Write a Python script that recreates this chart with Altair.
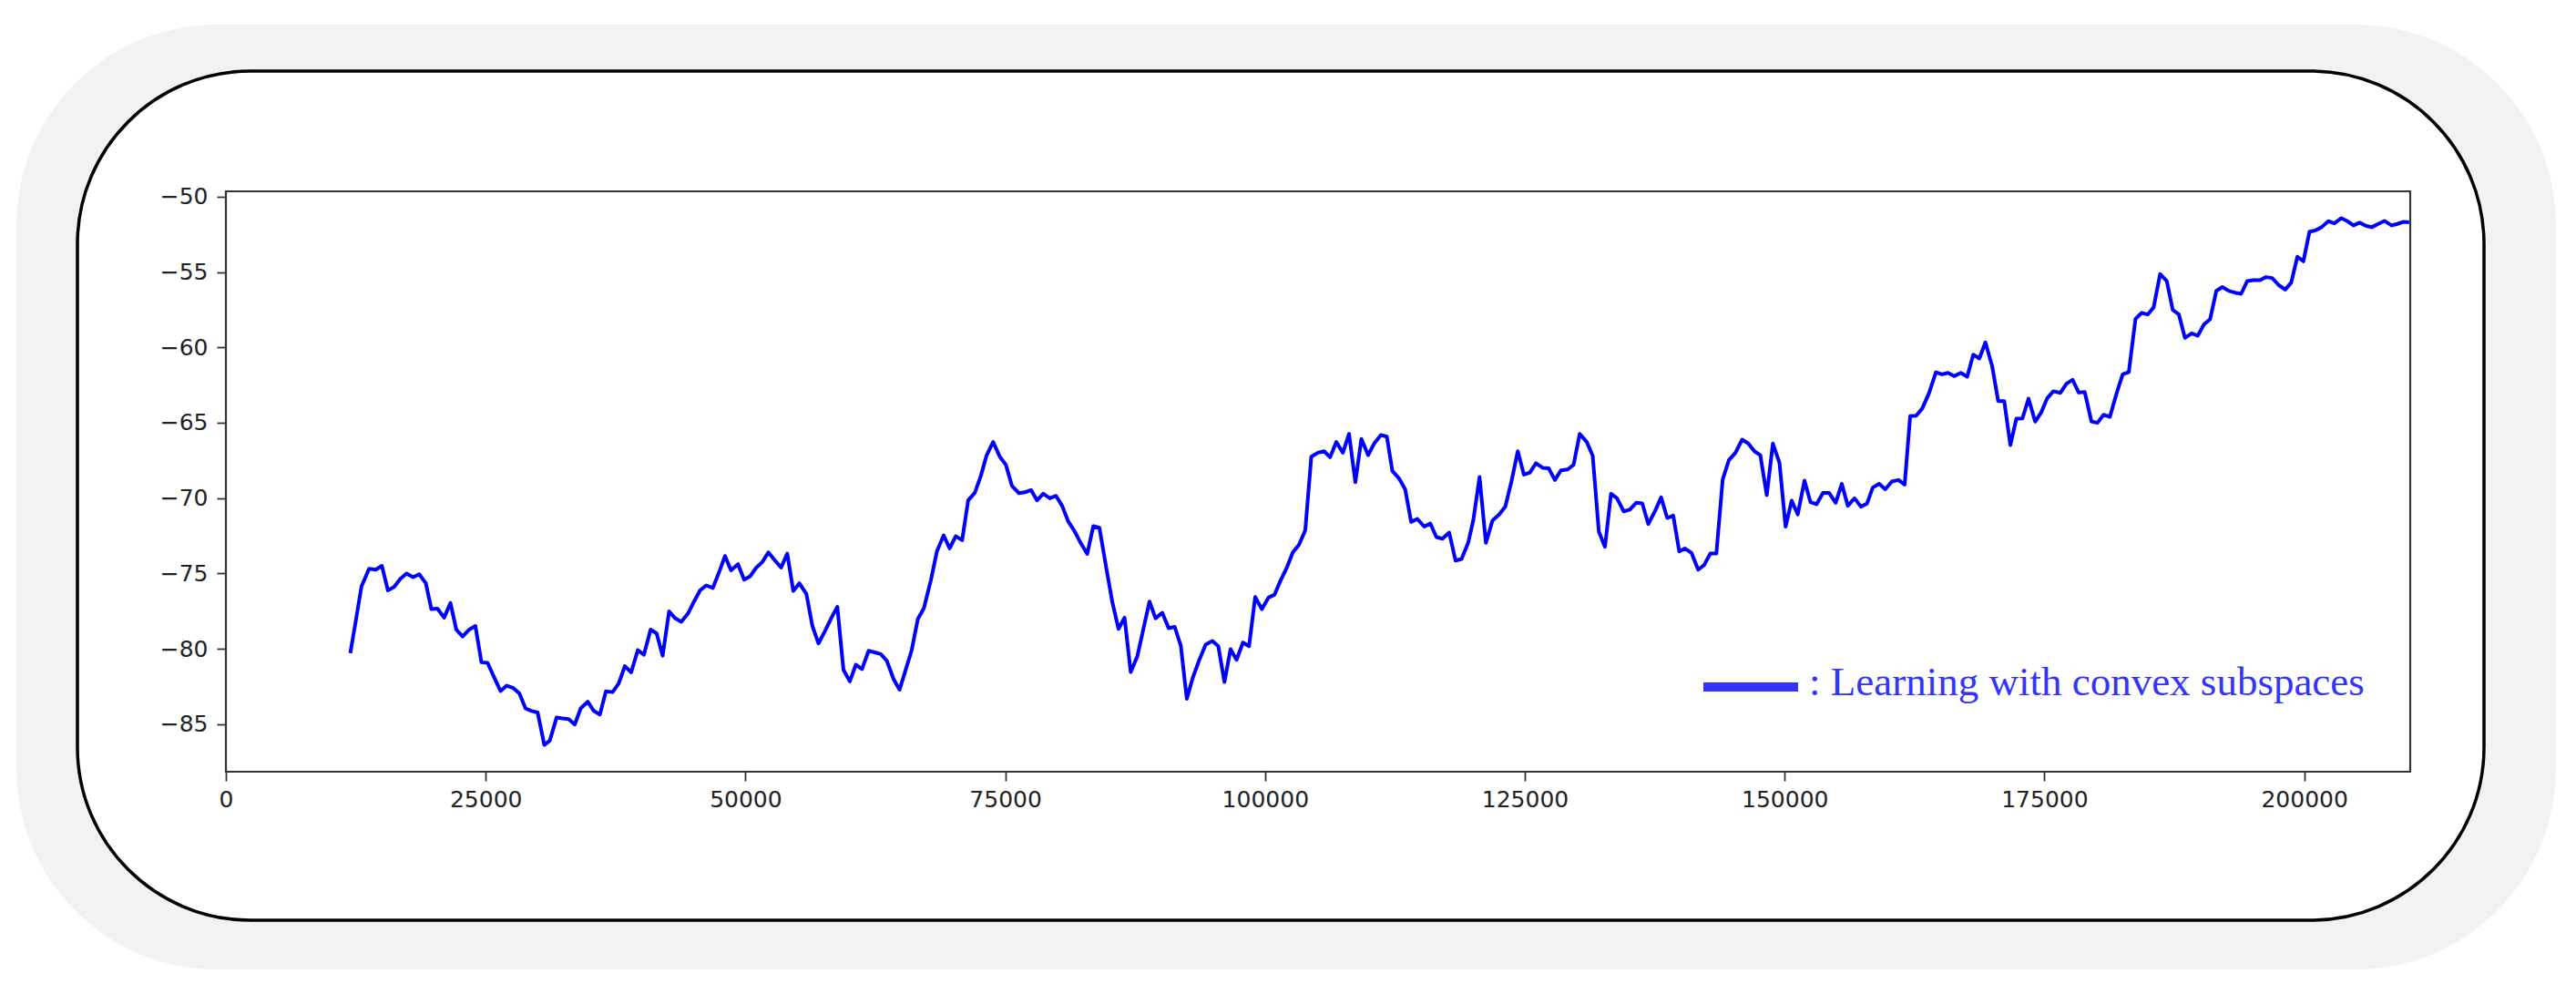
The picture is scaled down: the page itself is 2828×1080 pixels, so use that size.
import altair as alt
import pandas as pd

# ---- data ----
X = [11970, 12470, 13050, 13780, 14420, 15010, 15590, 16180, 16790, 17380, 18020, 18600,
     19240, 19770, 20360, 21000, 21610, 22170, 22780, 23420, 24010, 24590, 25180, 25820,
     26430, 27020, 27660, 28240, 28830, 29410, 30000, 30640, 31170, 31820, 32390, 32980,
     33570, 34140, 34820, 35410, 35990, 36570, 37210, 37800, 38390, 39000, 39640, 40230,
     40870, 41450, 42030, 42650, 43230, 43820, 44460, 45050, 45630, 46220, 46860, 47440,
     48030, 48610, 49280, 49870, 50450, 51040, 51620, 52200, 52790, 53430, 54020, 54600,
     55180, 55860, 56440, 57020, 57610, 58250, 58840, 59430, 60040, 60620, 61210, 61850,
     62430, 63020, 63600, 64250, 64830, 65410, 66000, 66580, 67170, 67840, 68420, 69070,
     69650, 70230, 70850, 71430, 72070, 72660, 73190, 73830, 74470, 75060, 75650, 76310,
     76900, 77490, 78060, 78650, 79290, 79880, 80470, 81040, 81660, 82250, 82890, 83470,
     84060, 84700, 85290, 85900, 86480, 87070, 87710, 88290, 88880, 89460, 90110, 90720,
     91300, 91890, 92470, 93050, 93640, 94280, 94930, 95500, 96090, 96680, 97260, 97870,
     98460, 99050, 99690, 100330, 100920, 101500, 102080, 102670, 103260, 103870, 104450,
     105090, 105680, 106260, 106850, 107490, 108080, 108690, 109270, 109920, 110500,
     111150, 111720, 112250, 112900, 113480, 114060, 114650, 115320, 115900, 116490,
     117070, 117720, 118330, 118910, 119560, 120050, 120640, 121250, 121890, 122540,
     123120, 123710, 124320, 124910, 125490, 126070, 126710, 127300, 127890, 128470,
     129120, 129690, 130280, 130960, 131530, 132120, 132710, 133290, 133870, 134510,
     135100, 135710, 136300, 136880, 137530, 138110, 138700, 139280, 139860, 140390,
     141040, 141680, 142260, 142840, 143430, 144040, 144630, 145270, 145910, 146500,
     147090, 147660, 148280, 148870, 149510, 150090, 150680, 151260, 151910, 152490,
     153070, 153690, 154270, 154910, 155500, 156080, 156730, 157340, 157920, 158480,
     159100, 159680, 160320, 160960, 161550, 162080, 162660, 163240, 163880, 164560,
     165150, 165720, 166310, 166950, 167570, 168150, 168740, 169320, 169970, 170550,
     171130, 171720, 172300, 172890, 173470, 174110, 174700, 175280, 175870, 176540,
     177120, 177710, 178300, 178880, 179520, 180100, 180690, 181300, 181940, 182530,
     183120, 183760, 184350, 184930, 185510, 186130, 186770, 187350, 187940, 188520,
     189170, 189750, 190360, 190950, 191540, 192120, 192760, 193340, 193930, 194520,
     195100, 195750, 196320, 196910, 197530, 198170, 198750, 199340, 199920, 200510,
     201090, 201670, 202320, 202900, 203580, 204160, 204740, 205330, 205920, 206500,
     207080, 207720, 208400, 208980, 209560, 210090]

Y = [-80.29, -78.27, -75.85, -74.69, -74.75, -74.49, -76.12, -75.90, -75.35, -75.00, -75.25, -75.05,
     -75.65, -77.36, -77.33, -77.93, -76.96, -78.72, -79.18, -78.72, -78.48, -80.89, -80.93, -81.90,
     -82.80, -82.44, -82.60, -82.95, -83.95, -84.12, -84.22, -86.37, -86.09, -84.56, -84.62, -84.66,
     -85.02, -83.95, -83.51, -84.12, -84.36, -82.81, -82.87, -82.30, -81.15, -81.56, -80.08, -80.39,
     -78.72, -78.98, -80.45, -77.51, -77.97, -78.21, -77.67, -76.86, -76.12, -75.79, -75.96, -74.95,
     -73.84, -74.79, -74.38, -75.41, -75.19, -74.61, -74.24, -73.60, -74.10, -74.61, -73.68, -76.16,
     -75.65, -76.36, -78.48, -79.64, -78.88, -77.97, -77.21, -81.40, -82.16, -81.05, -81.34, -80.13,
     -80.23, -80.35, -80.79, -82.00, -82.71, -81.40, -80.08, -78.03, -77.30, -75.45, -73.54, -72.47,
     -73.34, -72.53, -72.79, -70.15, -69.65, -68.50, -67.19, -66.28, -67.25, -67.79, -69.20, -69.67,
     -69.61, -69.47, -70.15, -69.71, -70.01, -69.85, -70.51, -71.52, -72.19, -72.97, -73.70, -71.86,
     -71.97, -74.55, -76.86, -78.68, -77.93, -81.54, -80.49, -78.68, -76.86, -77.97, -77.61, -78.63,
     -78.54, -79.78, -83.31, -81.90, -80.79, -79.72, -79.48, -79.82, -82.20, -80.02, -80.73, -79.58,
     -79.82, -76.56, -77.36, -76.60, -76.40, -75.45, -74.64, -73.60, -73.10, -72.13, -67.25,
     -66.99, -66.89, -67.29, -66.28, -66.99, -65.74, -68.94, -66.08, -67.15, -66.38,
     -65.82, -65.92, -68.20, -68.70, -69.41, -71.58, -71.38, -71.89, -71.68, -72.59,
     -72.69, -72.29, -74.14, -74.04, -72.93, -71.42, -68.60, -72.97, -71.48, -71.08,
     -70.56, -68.90, -66.89, -68.44, -68.30, -67.69, -67.99, -68.03, -68.80, -68.16,
     -68.10, -67.79, -65.74, -66.28, -67.19, -72.22, -73.23, -69.71, -70.01, -70.88,
     -70.77, -70.31, -70.35, -71.72, -70.86, -69.95, -71.32, -71.16, -73.54, -73.34,
     -73.64, -74.75, -74.44, -73.68, -73.68, -68.76, -67.49, -66.99, -66.12, -66.38,
     -66.89, -67.15, -69.81, -66.38, -67.69, -71.89, -70.17, -71.08, -68.84, -70.27,
     -70.41, -69.65, -69.65, -70.31, -69.06, -70.51, -70.01, -70.57, -70.37, -69.30,
     -69.05, -69.41, -68.90, -68.80, -69.10, -64.57, -64.53, -64.06, -63.06, -61.65,
     -61.79, -61.69, -61.91, -61.69, -61.95, -60.48, -60.74, -59.67, -61.25, -63.56,
     -63.56, -66.48, -64.73, -64.71, -63.40, -64.93, -64.30, -63.36, -62.91, -63.02,
     -62.41, -62.15, -63.00, -62.96, -64.91, -65.01, -64.47, -64.61, -63.06, -61.79,
     -61.64, -58.12, -57.71, -57.82, -57.35, -55.14, -55.60, -57.52, -57.82, -59.37,
     -59.07, -59.23, -58.48, -58.12, -56.25, -56.00, -56.26, -56.37, -56.45, -55.60,
     -55.54, -55.54, -55.34, -55.40, -55.86, -56.17, -55.70, -53.99, -54.29, -52.32,
     -52.24, -52.03, -51.63, -51.77, -51.43, -51.63, -51.91, -51.73, -51.93, -52.03,
     -51.83, -51.61, -51.91, -51.81, -51.67, -51.71]

X_TICKS = [0, 25000, 50000, 75000, 100000, 125000, 150000, 175000, 200000]
Y_TICKS = [-85, -80, -75, -70, -65, -60, -55, -50]
X_DOMAIN = [0, 210200]
Y_DOMAIN = [-88.15, -49.65]
LEGEND_LABEL = ": Learning with convex subspaces"

n = min(len(X), len(Y))
df = pd.DataFrame({"step": X[:n], "reward": Y[:n]})

W, H = 2398, 637
one = alt.Data(values=[{}])

gray = alt.Chart(one).mark_rect(fill="#f2f2f2", cornerRadius=220).encode(
    x=alt.value(-230), x2=alt.value(2558), y=alt.value(-183), y2=alt.value(854))

frame = alt.Chart(one).mark_rect(fill="white", stroke="black", strokeWidth=3.5,
                                 cornerRadius=190).encode(
    x=alt.value(-163), x2=alt.value(2479), y=alt.value(-132), y2=alt.value(800))

border = alt.Chart(one).mark_rect(fill="white", fillOpacity=0, stroke="#333333",
                                  strokeWidth=2.2).encode(
    x=alt.value(0), x2=alt.value(W), y=alt.value(0), y2=alt.value(H))

axis_common = dict(title=None, format="d", zindex=1, domain=False, grid=False,
                   tickSize=10, tickWidth=1.8, tickColor="#333333",
                   labelFont="DejaVu Sans", labelFontSize=25, labelColor="#222222",
                   labelFlush=False, labelOverlap=False)

line = alt.Chart(df).mark_line(color="#0000ff", strokeWidth=4, strokeJoin="round").encode(
    x=alt.X("step:Q", scale=alt.Scale(domain=X_DOMAIN, nice=False, zero=False),
            axis=alt.Axis(values=X_TICKS, labelPadding=8, **axis_common)),
    y=alt.Y("reward:Q", scale=alt.Scale(domain=Y_DOMAIN, nice=False, zero=False),
            axis=alt.Axis(values=Y_TICKS, labelPadding=10, **axis_common)),
)

legend_rule = alt.Chart(one).mark_rule(color="#3333ff", strokeWidth=10).encode(
    x=alt.value(1622), x2=alt.value(1726), y=alt.value(544))

legend_text = alt.Chart(one).mark_text(
    font="Liberation Serif", fontSize=45, color="#3333ff", align="left",
    baseline="alphabetic").encode(
    x=alt.value(1738), y=alt.value(553), text=alt.value(LEGEND_LABEL))

chart = alt.layer(gray, frame, border, line, legend_rule, legend_text).properties(
    width=W, height=H,
    autosize=alt.AutoSizeParams(type="none"),
    padding={"left": 240, "top": 202, "right": 174, "bottom": 221},
    background="white",
).configure_view(strokeWidth=0)

chart.save("out.html", embed_options={"renderer": "svg", "actions": False})
